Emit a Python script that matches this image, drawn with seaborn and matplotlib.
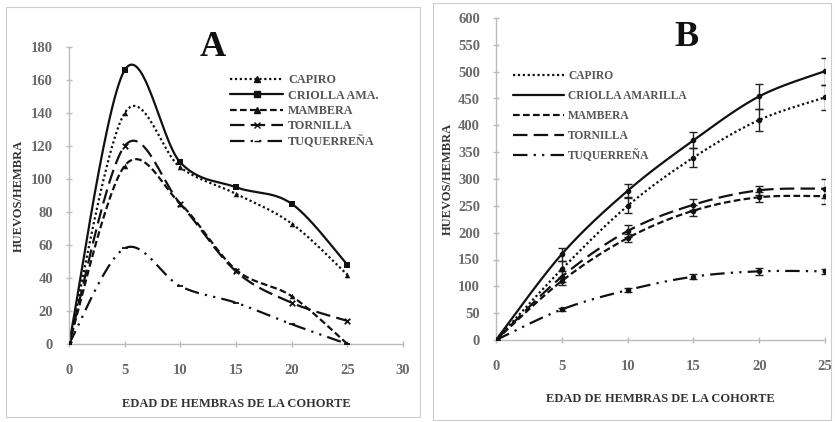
import numpy as np
import pandas as pd
import seaborn as sns
import matplotlib.pyplot as plt
from matplotlib.patches import Rectangle
from matplotlib.lines import Line2D

# data panel A (eggs per female by age)
edad = [0, 5, 10, 15, 20, 25]
capiro_a = [0, 140, 107, 91, 73, 42]
criolla_a = [0, 166, 110, 95, 85, 48]
mambera_a = [0, 108, 85, 45, 29, 0]
tornilla_a = [0, 120, 85, 44, 25, 14]
tuquerrena_a = [0, 58, 35, 25, 12, 0]

# data panel B (cumulative eggs per female) with error bars
capiro_b = [0, 132, 250, 340, 410, 452]
criolla_b = [0, 160, 278, 372, 454, 501]
mambera_b = [0, 110, 190, 241, 266, 268]
tornilla_b = [0, 118, 203, 252, 279, 282]
tuquerrena_b = [0, 57, 93, 118, 128, 128]
capiro_err = [0, 16, 14, 17, 20, 24]
criolla_err = [0, 12, 12, 15, 23, 25]
mambera_err = [0, 8, 8, 10, 9, 14]
tornilla_err = [0, 10, 12, 10, 8, 18]
tuquerrena_err = [0, 3, 4, 5, 6, 5]

names_a = ['CAPIRO', 'CRIOLLA AMA.', 'MAMBERA', 'TORNILLA', 'TUQUERREÑA']
names_b = ['CAPIRO', 'CRIOLLA AMARILLA', 'MAMBERA', 'TORNILLA', 'TUQUERREÑA']

dashes = [(1, 1.2), (), (3, 1.5), (6.5, 2.8), (6.5, 2.8, 1, 2.8, 1, 2.8)]
markers_a = ['^', 's', '^', 'x', '_']


def smooth(x, y, n=30):
    # excel-like smoothed line (catmull-rom through the points)
    x = np.asarray(x, float)
    y = np.asarray(y, float)
    px = np.r_[x[0], x, x[-1]]
    py = np.r_[y[0], y, y[-1]]
    xs, ys = [], []
    t = np.linspace(0, 1, n)
    for i in range(1, len(px) - 2):
        p0, p1, p2, p3 = [np.array([px[j], py[j]]) for j in range(i - 1, i + 3)]
        c1 = p1 + (p2 - p0) / 6
        c2 = p2 - (p3 - p1) / 6
        b = ((1 - t) ** 3)[:, None] * p1 + (3 * (1 - t) ** 2 * t)[:, None] * c1 \
            + (3 * (1 - t) * t ** 2)[:, None] * c2 + (t ** 3)[:, None] * p2
        xs.extend(b[:, 0])
        ys.extend(b[:, 1])
    return np.array(xs), np.array(ys)


sns.set_style('white')
plt.rcParams['font.family'] = ['Liberation Serif', 'DejaVu Serif']

fig = plt.figure(figsize=(8.35, 4.22), dpi=100)
fig.patches.append(Rectangle((6 / 835, 5 / 422), 414 / 835, 410 / 422, transform=fig.transFigure,
                             fill=False, ec='#cccccc', lw=0.8))
fig.patches.append(Rectangle((433 / 835, 2 / 422), 398 / 835, 417 / 422, transform=fig.transFigure,
                             fill=False, ec='#cccccc', lw=0.8))

ax1 = fig.add_axes([69 / 835, 1 - 344 / 422, 334 / 835, 297 / 422])
ax2 = fig.add_axes([496 / 835, 1 - 340 / 422, 329 / 835, 322 / 422])

LW = 1.6

# panel A
handles = []
for name, vals, dsh, mk in zip(names_a, [capiro_a, criolla_a, mambera_a, tornilla_a, tuquerrena_a],
                               dashes, markers_a):
    sx, sy = smooth(edad, vals)
    d = pd.DataFrame({'x': sx, 'y': sy})
    sns.lineplot(data=d, x='x', y='y', ax=ax1, color='#111111', lw=LW, sort=False,
                 dashes=False, estimator=None)
    if dsh:
        ax1.lines[-1].set_dashes(dsh)
    pts = pd.DataFrame({'x': edad, 'y': vals})
    sns.scatterplot(data=pts, x='x', y='y', ax=ax1, marker=mk, color='#111111', s=16,
                    linewidth=1.3 if mk in ('x', '_') else 0, edgecolor='#111111', zorder=3)
    h = Line2D([], [], color='#111111', lw=LW, marker=mk, markersize=4, mew=1)
    if dsh:
        h.set_dashes(dsh)
    handles.append(h)

ax1.set_xlim(0, 30)
ax1.set_ylim(0, 180)
ax1.set_xticks(range(0, 31, 5))
ax1.set_yticks(range(0, 181, 20))
ax1.legend(handles, names_a, loc='upper left', bbox_to_anchor=(0.45, 0.945), frameon=False,
           fontsize=8.7, handlelength=4.4, labelspacing=0.28, handletextpad=0.4)
ax1.text(0.43, 1.0, 'A', transform=ax1.transAxes, ha='center', va='center', fontsize=26,
         fontweight='bold', color='#111111')
ax1.xaxis.set_label_coords(0.49, -0.182)
ax1.yaxis.set_label_coords(-0.132, 0.545)

# panel B
handles = []
for name, vals, err, dsh in zip(names_b, [capiro_b, criolla_b, mambera_b, tornilla_b, tuquerrena_b],
                                [capiro_err, criolla_err, mambera_err, tornilla_err, tuquerrena_err],
                                dashes):
    sx, sy = smooth(edad, vals)
    d = pd.DataFrame({'x': sx, 'y': sy})
    sns.lineplot(data=d, x='x', y='y', ax=ax2, color='#111111', lw=LW, sort=False,
                 dashes=False, estimator=None)
    if dsh:
        ax2.lines[-1].set_dashes(dsh)
    ax2.errorbar(edad, vals, yerr=err, fmt='o', ms=3, color='#111111', ecolor='#222222',
                 elinewidth=1, capsize=3, capthick=1, zorder=3)
    h = Line2D([], [], color='#111111', lw=LW)
    if dsh:
        h.set_dashes(dsh)
    handles.append(h)

ax2.set_xlim(0, 25)
ax2.set_ylim(0, 600)
ax2.set_xticks(range(0, 26, 5))
ax2.set_yticks(range(0, 601, 50))
ax2.legend(handles, names_b, loc='upper left', bbox_to_anchor=(0.02, 0.87), frameon=False,
           fontsize=8.3, handlelength=4.4, labelspacing=0.68, handletextpad=0.4)
ax2.text(0.58, 0.94, 'B', transform=ax2.transAxes, ha='center', va='center', fontsize=26,
         fontweight='bold', color='#111111')
ax2.xaxis.set_label_coords(0.547, -0.165)
ax2.yaxis.set_label_coords(-0.128, 0.54)

for ax in (ax1, ax2):
    sns.despine(ax=ax)
    for s in ('left', 'bottom'):
        ax.spines[s].set_color('#bbbbbb')
        ax.spines[s].set_linewidth(1)
    ax.tick_params(axis='both', colors='#bbbbbb', labelcolor='#6a6a6a', labelsize=10.5,
                   direction='inout', length=5, width=1, left=True, bottom=True)
    ax.tick_params(axis='y', pad=9)
    ax.tick_params(axis='x', pad=12)
    for lb in ax.get_xticklabels() + ax.get_yticklabels():
        lb.set_fontweight('bold')
    for t in ax.get_legend().get_texts():
        t.set_color('#555555')
        t.set_fontweight('bold')
    ax.set_xlabel('EDAD DE HEMBRAS DE LA COHORTE', fontsize=9, fontweight='bold', color='#333333')
    ax.set_ylabel('HUEVOS/HEMBRA', fontsize=9, fontweight='bold', color='#333333')

fig.savefig('out.png', dpi=100)
